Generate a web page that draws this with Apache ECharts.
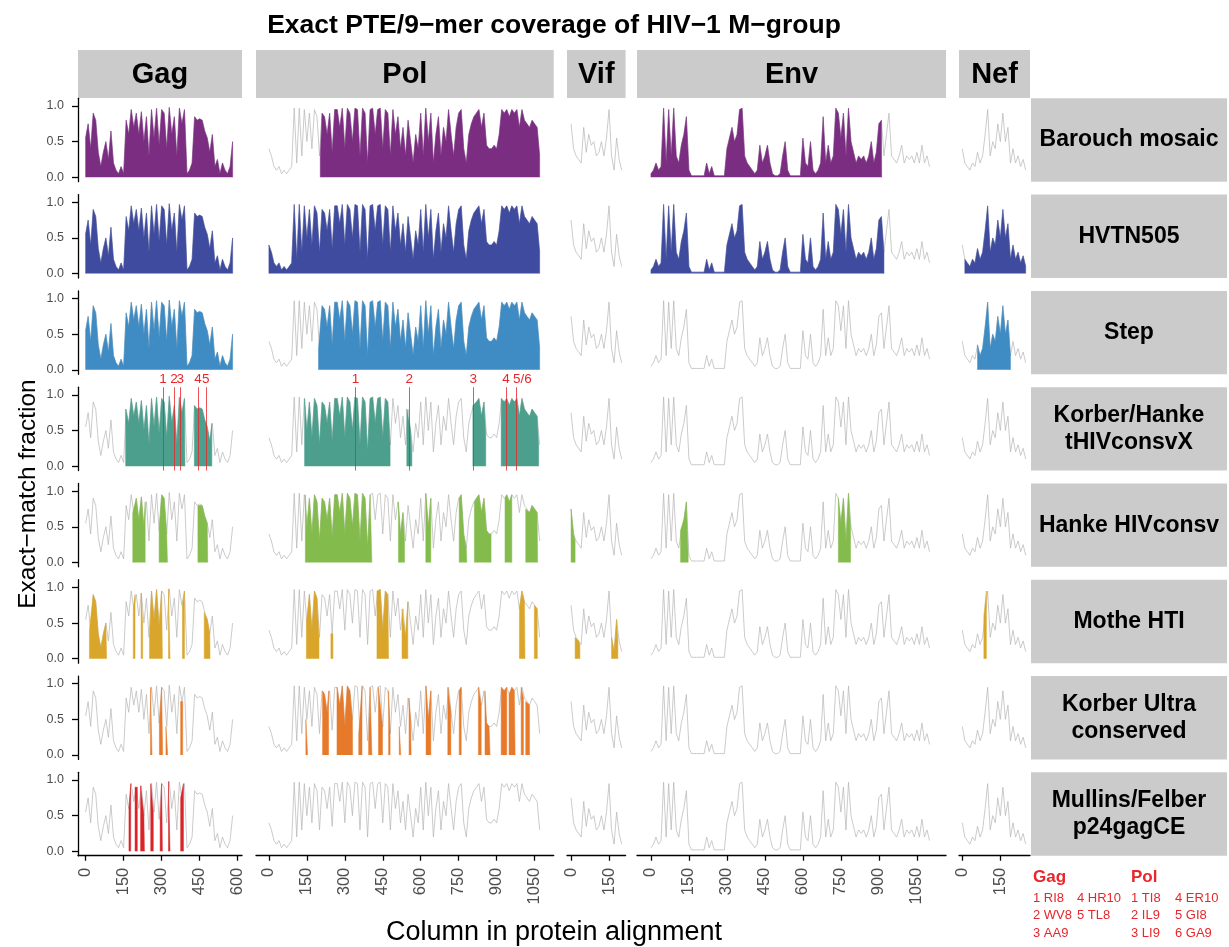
<!DOCTYPE html>
<html>
<head>
<meta charset="utf-8">
<script src="https://cdn.jsdelivr.net/npm/echarts@6/dist/echarts.min.js"></script>
<style>
  html, body { margin: 0; padding: 0; background: #fff; }
  #main { width: 1229px; height: 947px; }
</style>
</head>
<body>
<div id="main"></div>
<script>
// facets
var proteins = ['Gag', 'Pol', 'Vif', 'Env', 'Nef'];
var vaccines = ['Barouch mosaic', 'HVTN505', 'Step', 'Korber/Hanke\ntHIVconsvX', 'Hanke HIVconsv',
                'Mothe HTI', 'Korber Ultra\nconserved', 'Mullins/Felber\np24gagCE'];
var vaccineColors = ['#7b2d82', '#3e4b9e', '#3f8cc4', '#4b9f8c', '#84bb4d', '#d9a62b', '#e77a2a', '#d9242a'];

// exact-match fraction, one value every 10 alignment columns
var profileStep = 10;
var gagProfile = [0.55, 0.75, 0.4, 0.9, 0.8, 0.35, 0.15, 0.35, 0.5, 0.25,
  0.65, 0.2, 0.1, 0.05, 0.15, 0.05, 0.8, 0.6, 0.95, 0.7,
  0.9, 0.6, 0.92, 0.5, 0.85, 0.3, 0.95, 0.55, 0.97, 0.45,
  0.95, 0.9, 0.4, 0.98, 0.6, 0.85, 0.3, 0.97, 0.75, 0.95,
  0.05, 0.1, 0.2, 0.85, 0.8, 0.82, 0.8, 0.65, 0.55, 0.35,
  0.6, 0.15, 0.25, 0.05, 0.2, 0.1, 0.05, 0.15, 0.5];
var polProfile = [0.4, 0.3, 0.15, 0.1, 0.15, 0.05, 0.1, 0.05, 0.1, 0.15,
  0.97, 0.2, 0.97, 0.3, 0.95, 0.5, 0.9, 0.4, 0.95, 0.85,
  0.3, 0.9, 0.85, 0.6, 0.9, 0.35, 0.95, 0.95, 0.7, 0.97,
  0.4, 0.97, 0.9, 0.5, 0.97, 0.95, 0.3, 0.97, 0.9, 0.2,
  0.95, 0.97, 0.6, 0.95, 0.97, 0.4, 0.95, 0.9, 0.3, 0.95,
  0.6, 0.85, 0.4, 0.7, 0.3, 0.8, 0.5, 0.2, 0.6, 0.4,
  0.9, 0.3, 0.97, 0.5, 0.9, 0.2, 0.6, 0.85, 0.3, 0.7,
  0.5, 0.95, 0.6, 0.3, 0.7, 0.9, 0.95, 0.4, 0.2, 0.6,
  0.75, 0.85, 0.9, 0.95, 0.7, 0.9, 0.45, 0.4, 0.4, 0.45,
  0.4, 0.6, 0.95, 0.9, 0.95, 0.85, 0.95, 0.9, 0.95, 0.7,
  0.95, 0.8, 0.75, 0.7, 0.8, 0.75, 0.7, 0.3];
var vifProfile = [0.75, 0.4, 0.3, 0.25, 0.2, 0.7, 0.35, 0.6, 0.45, 0.5,
  0.3, 0.35, 0.5, 0.3, 0.55, 0.95, 0.3, 0.1, 0.55, 0.25, 0.1];
var envProfile = [0.05, 0.1, 0.2, 0.1, 0.15, 0.97, 0.2, 0.95, 0.3, 0.97,
  0.3, 0.2, 0.45, 0.6, 0.85, 0.1, 0.02, 0.02, 0.02, 0.02,
  0.02, 0.02, 0.2, 0.05, 0.15, 0.02, 0.02, 0.02, 0.02, 0.02,
  0.4, 0.55, 0.7, 0.5, 0.6, 0.95, 0.97, 0.3, 0.2, 0.15,
  0.1, 0.05, 0.1, 0.45, 0.2, 0.3, 0.45, 0.2, 0.05, 0.02,
  0.02, 0.05, 0.3, 0.5, 0.1, 0.02, 0.02, 0.02, 0.02, 0.02,
  0.55, 0.2, 0.15, 0.5, 0.1, 0.05, 0.1, 0.2, 0.85, 0.2,
  0.45, 0.2, 0.3, 0.97, 0.9, 0.55, 0.9, 0.3, 0.97, 0.5,
  0.35, 0.2, 0.3, 0.25, 0.3, 0.2, 0.3, 0.5, 0.2, 0.35,
  0.75, 0.8, 0.3, 0.6, 0.9, 0.3, 0.25, 0.2, 0.3, 0.45,
  0.2, 0.3, 0.25, 0.3, 0.2, 0.35, 0.2, 0.45, 0.2, 0.3, 0.15];
var nefProfile = [0.4, 0.2, 0.15, 0.1, 0.2, 0.15, 0.35, 0.2, 0.3, 0.6,
  0.95, 0.3, 0.5, 0.4, 0.75, 0.5, 0.9, 0.5, 0.7, 0.2,
  0.4, 0.2, 0.3, 0.15, 0.25, 0.1];

// covered alignment columns per vaccine, order Gag, Pol, Vif, Env, Nef
var barouchCover = [[[0, 590]], [[203, 1070]], [], [[0, 911]], []];
var hvtn505Cover = [[[0, 590]], [[0, 1070]], [], [[0, 920]], [[10, 250]]];
var stepCover = [[[0, 590]], [[196, 1070]], [], [], [[60, 190]]];
var tHIVconsvXCover = [[[158, 392], [429, 498]], [[141, 479], [545, 565], [806, 857], [918, 1066]], [], [], []];
var hivconsvCover = [[[186, 235], [290, 323], [443, 482]],
  [[144, 407], [512, 536], [620, 640], [752, 782], [812, 878], [933, 960], [1015, 1062]],
  [[0, 16]], [[117, 147], [740, 788]], []];
var htiCover = [[[15, 83], [188, 195], [219, 225], [252, 303], [327, 333], [382, 390], [468, 491]],
  [[148, 198], [245, 253], [427, 473], [526, 549], [990, 1012], [1049, 1061]],
  [[16, 35], [160, 185]], [], [[85, 95]]];
var ultraCover = [[[256, 262], [291, 304], [317, 324], [375, 383]],
  [[146, 153], [212, 236], [269, 331], [355, 368], [394, 407], [433, 449], [473, 479], [515, 521],
   [554, 562], [621, 640], [707, 719], [752, 760], [828, 839], [854, 874], [918, 940], [949, 973],
   [997, 1006], [1015, 1030]], [], [], []];
var p24ceCover = [[[171, 178], [195, 204], [217, 232], [257, 267], [294, 303], [327, 333], [375, 386]], [], [], [], []];

// epitope markers drawn in the tHIVconsvX row
var gagEpitopePos = [305, 349, 373, 443, 474];
var gagEpitopeLabels = ['1', '2', '3', '4', '5'];
var polEpitopePos = [342, 555, 808, 937, 978];
var polEpitopeLabels = ['1', '2', '3', '4', '5/6'];

// axis ticks
var gagTicks = [0, 150, 300, 450, 600];
var polTicks = [0, 150, 300, 450, 600, 750, 900, 1050];
var vifTicks = [0, 150];
var envTicks = [0, 150, 300, 450, 600, 750, 900, 1050];
var nefTicks = [0, 150];
var yTicks = [0, 0.5, 1];

// layout (px)
var colLeft = [78, 256, 567, 637, 959];
var colWidth = [164, 297.7, 58.6, 309, 71];
var colMin = [-30, -51, -16, -55, -13];
var colMax = [617, 1125.5, 215.5, 1165, 267];
var rowTop0 = 98.3, rowPitch = 96.29, panelH = 83.4;

var FONT = '"Liberation Sans", Arial, Helvetica, sans-serif';
var profiles = [gagProfile, polProfile, vifProfile, envProfile, nefProfile];
var ticks = [gagTicks, polTicks, vifTicks, envTicks, nefTicks];
var covers = [barouchCover, hvtn505Cover, stepCover, tHIVconsvXCover, hivconsvCover, htiCover, ultraCover, p24ceCover];

function profilePoints(p) {
  return p.map(function (v, i) { return [i * profileStep, v]; });
}
function nearestValue(p, x) {
  var i = Math.round(x / profileStep);
  i = Math.max(0, Math.min(p.length - 1, i));
  return p[i];
}
function coveredPoints(p, intervals) {
  var out = [];
  var last = (p.length - 1) * profileStep;
  intervals.forEach(function (iv) {
    var s = Math.max(0, iv[0]), e = Math.min(last, iv[1]);
    if (e <= s) return;
    out.push([s, 0], [s, nearestValue(p, s)]);
    p.forEach(function (v, i) {
      var x = i * profileStep;
      if (x > s && x < e) out.push([x, v]);
    });
    out.push([e, nearestValue(p, e)], [e, 0], [e, null]);
  });
  return out;
}

var grids = [], xAxes = [], yAxes = [], series = [], graphics = [];

for (var r = 0; r < vaccines.length; r++) {
  var panelTop = rowTop0 + r * rowPitch;
  for (var c = 0; c < proteins.length; c++) {
    var g = r * proteins.length + c;
    grids.push({ left: colLeft[c], top: panelTop, width: colWidth[c], height: panelH, containLabel: false });
    var bottomRow = r === vaccines.length - 1;
    xAxes.push({
      type: 'value', gridIndex: g, min: colMin[c], max: colMax[c],
      splitLine: { show: false },
      axisLine: { show: bottomRow, onZero: false, lineStyle: { color: '#000', width: 1.3 } },
      axisTick: { show: bottomRow, customValues: ticks[c], length: 5, lineStyle: { color: '#000', width: 1.3 } },
      axisLabel: { show: bottomRow, customValues: ticks[c], rotate: 90, margin: 12, hideOverlap: false,
                   color: '#4d4d4d', fontSize: 16.5, fontFamily: FONT,
                   formatter: function (v) { return String(v); } }
    });
    yAxes.push({
      type: 'value', gridIndex: g, min: -0.062, max: 1.108,
      splitLine: { show: false },
      axisLine: { show: c === 0, onZero: false, lineStyle: { color: '#000', width: 1.3 } },
      axisTick: { show: c === 0, customValues: yTicks, length: 6, lineStyle: { color: '#000', width: 1.3 } },
      axisLabel: { show: c === 0, customValues: yTicks, margin: 14, color: '#4d4d4d', fontSize: 12.5, fontFamily: FONT,
                   formatter: function (v) { return v.toFixed(1); } }
    });
    series.push({
      type: 'line', xAxisIndex: g, yAxisIndex: g, data: profilePoints(profiles[c]),
      symbol: 'none', silent: true, z: 2,
      lineStyle: { color: '#b5b5b5', width: 0.7 }
    });
    var colored = {
      type: 'line', xAxisIndex: g, yAxisIndex: g, data: coveredPoints(profiles[c], covers[r][c]),
      symbol: 'none', silent: true, z: 3, connectNulls: false,
      lineStyle: { color: vaccineColors[r], width: 0.5 },
      areaStyle: { color: vaccineColors[r], opacity: 1 }
    };
    if (r === 3 && (c === 0 || c === 1)) {
      var pos = c === 0 ? gagEpitopePos : polEpitopePos;
      var labs = c === 0 ? gagEpitopeLabels : polEpitopeLabels;
      colored.markLine = {
        symbol: ['none', 'none'], silent: true, animation: false,
        lineStyle: { color: '#e8262b', width: 0.8, type: 'solid' },
        label: { show: true, position: 'end', formatter: '{b}', color: '#e8262b', fontSize: 13.5, fontFamily: FONT, distance: 1 },
        data: pos.map(function (x, i) {
          var item = { xAxis: x, name: labs[i] };
          if (labs[i].length > 1) item.label = { offset: [6, 0] };
          return item;
        })
      };
    }
    series.push(colored);
  }
  // row strip
  graphics.push({
    type: 'rect', shape: { x: 1031, y: panelTop, width: 196, height: panelH },
    style: { fill: '#cbcbcb' }, silent: true
  });
  graphics.push({
    type: 'text', x: 1129, y: panelTop + panelH / 2,
    style: { text: vaccines[r], fill: '#000', fontSize: 23, fontWeight: 'bold', fontFamily: FONT,
             align: 'center', verticalAlign: 'middle', lineHeight: 27 }, silent: true
  });
}

// column strips
for (var c2 = 0; c2 < proteins.length; c2++) {
  graphics.push({
    type: 'rect', shape: { x: colLeft[c2], y: 50, width: colWidth[c2], height: 48 },
    style: { fill: '#cbcbcb' }, silent: true
  });
  graphics.push({
    type: 'text', x: colLeft[c2] + colWidth[c2] / 2, y: 75,
    style: { text: proteins[c2], fill: '#000', fontSize: 29, fontWeight: 'bold', fontFamily: FONT,
             align: 'center', verticalAlign: 'middle' }, silent: true
  });
}

// titles
graphics.push({
  type: 'text', x: 554, y: 26,
  style: { text: 'Exact PTE/9\u2212mer coverage of HIV\u22121 M\u2212group', fill: '#000', fontSize: 26.5,
           fontWeight: 'bold', fontFamily: FONT, align: 'center', verticalAlign: 'middle' }, silent: true
});
graphics.push({
  type: 'text', x: 554, y: 933,
  style: { text: 'Column in protein alignment', fill: '#000', fontSize: 27, fontFamily: FONT,
           align: 'center', verticalAlign: 'middle' }, silent: true
});
graphics.push({
  type: 'text', x: 28, y: 494, rotation: Math.PI / 2,
  style: { text: 'Exact\u2212match fraction', fill: '#000', fontSize: 24.5, fontFamily: FONT,
           align: 'center', verticalAlign: 'middle' }, silent: true
});

// epitope key
var keyRed = '#e8262b';
var gagKey = [['1 RI8', '4 HR10'], ['2 WV8', '5 TL8'], ['3 AA9', '']];
var polKey = [['1 TI8', '4 ER10'], ['2 IL9', '5 GI8'], ['3 LI9', '6 GA9']];
function addKey(x0, head, rows) {
  graphics.push({ type: 'text', x: x0, y: 877,
    style: { text: head, fill: keyRed, fontSize: 17, fontWeight: 'bold', fontFamily: FONT, align: 'left', verticalAlign: 'middle' }, silent: true });
  rows.forEach(function (row, i) {
    graphics.push({ type: 'text', x: x0, y: 898 + i * 17.5,
      style: { text: row[0], fill: keyRed, fontSize: 13, fontFamily: FONT, align: 'left', verticalAlign: 'middle' }, silent: true });
    graphics.push({ type: 'text', x: x0 + 44, y: 898 + i * 17.5,
      style: { text: row[1], fill: keyRed, fontSize: 13, fontFamily: FONT, align: 'left', verticalAlign: 'middle' }, silent: true });
  });
}
addKey(1033, 'Gag', gagKey);
addKey(1131, 'Pol', polKey);

var chart = echarts.init(document.getElementById('main'), null, { renderer: 'canvas' });
chart.setOption({
  animation: false,
  backgroundColor: '#fff',
  grid: grids,
  xAxis: xAxes,
  yAxis: yAxes,
  series: series,
  graphic: graphics
});
</script>
</body>
</html>
